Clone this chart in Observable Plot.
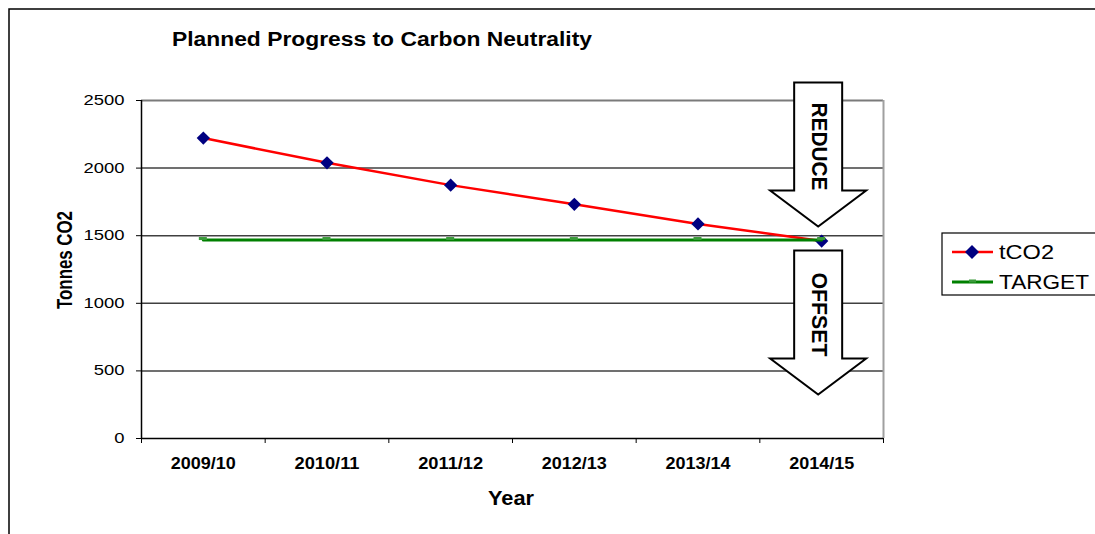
<!DOCTYPE html>
<html><head><meta charset="utf-8">
<script src="https://cdn.jsdelivr.net/npm/d3@7"></script>
<script src="https://cdn.jsdelivr.net/npm/@observablehq/plot@0.6"></script>
<style>
body{margin:0;background:#fff}
svg{font-family:Arial,"Liberation Sans",sans-serif}
</style>
</head><body><div id="chart"></div>
<script>
const years = ["2009/10","2010/11","2011/12","2012/13","2013/14","2014/15"];
const tco2 = [2222, 2039, 1874, 1732, 1587, 1460];
const target = [1468, 1468, 1468, 1468, 1468, 1468];
const yTicks = [0, 500, 1000, 1500, 2000, 2500];
const seriesNames = ["tCO2", "TARGET"];
const seriesColors = ["#ff0000", "#008000"];
const chartTitle = "Planned Progress to Carbon Neutrality";
const yLabel = "Tonnes CO2";
const xLabel = "Year";
const arrowLabels = ["REDUCE", "OFFSET"];

const idx = years.map((_, i) => i);
const rows = [
  ...idx.map(i => ({i, v: tco2[i], s: seriesNames[0]})),
  ...idx.map(i => ({i, v: target[i], s: seriesNames[1]}))
];
const tRows = rows.filter(d => d.s === seriesNames[0]);
const gRows = rows.filter(d => d.s === seriesNames[1]);
const bounds = d3.range(-0.5, years.length, 1);

function overlay(index, scales) {
  const x = scales.x, y = scales.y;
  const g = d3.create("svg:g").attr("text-anchor", "start").attr("fill", "#000");
  g.append("rect").attr("x", 9).attr("y", 9).attr("width", 1100).attr("height", 540)
    .attr("fill", "none").attr("stroke", "#000").attr("stroke-width", 1.5);
  g.append("text").attr("x", 172).attr("y", 46).attr("text-anchor", "start")
    .attr("font-size", 19.5).attr("font-weight", "bold")
    .attr("textLength", 420).attr("lengthAdjust", "spacingAndGlyphs").text(chartTitle);
  g.append("text").attr("transform", `translate(64,${(y(0)+y(2500))/2 - 9}) rotate(-90)`)
    .attr("text-anchor", "middle").attr("dominant-baseline", "central")
    .attr("font-size", 22).attr("font-weight", "bold")
    .attr("textLength", 98).attr("lengthAdjust", "spacingAndGlyphs").text(yLabel);
  g.append("text").attr("x", (x(-0.5)+x(5.5))/2 - 1).attr("y", 505).attr("text-anchor", "middle")
    .attr("font-size", 20).attr("font-weight", "bold")
    .attr("textLength", 46).attr("lengthAdjust", "spacingAndGlyphs").text(xLabel);
  const ax = x(years.length - 1) - 3, ay = y(target[target.length - 1]);
  const arrow = (top, label) => {
    const pts = [[-24,0],[24,0],[24,108],[48,108],[0,144],[-48,108],[-24,108]]
      .map(([dx,dy]) => [ax+dx, top+dy]);
    g.append("path").attr("d", "M" + pts.join("L") + "Z")
      .attr("fill", "#fff").attr("stroke", "#000").attr("stroke-width", 2);
    g.append("text").attr("transform", `translate(${ax+1},${top+20+44}) rotate(90)`)
      .attr("text-anchor", "middle").attr("dominant-baseline", "central")
      .attr("font-size", 22).attr("font-weight", "bold")
      .attr("textLength", label === arrowLabels[0] ? 88 : 84).attr("lengthAdjust", "spacingAndGlyphs")
      .text(label);
  };
  arrow(ay - 157, arrowLabels[0]);
  arrow(ay + 11, arrowLabels[1]);
  g.append("rect").attr("x", 942).attr("y", 233).attr("width", 170).attr("height", 62)
    .attr("fill", "#fff").attr("stroke", "#000").attr("stroke-width", 1.2);
  seriesNames.forEach((name, k) => {
    const ly = 252 + k * 30;
    g.append("line").attr("x1", 952).attr("x2", 993).attr("y1", ly).attr("y2", ly)
      .attr("stroke", seriesColors[k]).attr("stroke-width", k === 0 ? 2.5 : 3);
    if (k === 0) {
      g.append("path").attr("d", `M972,${ly-7}L979,${ly}L972,${ly+7}L965,${ly}Z`).attr("fill", "#000080");
    } else {
      g.append("rect").attr("x", 969).attr("y", ly-2.5).attr("width", 7).attr("height", 3).attr("fill", "#3a9a3a");
    }
    g.append("text").attr("x", 999).attr("y", ly).attr("text-anchor", "start")
      .attr("dominant-baseline", "central")
      .attr("font-size", 20).attr("textLength", k === 0 ? 55 : 90).attr("lengthAdjust", "spacingAndGlyphs")
      .text(name);
  });
  return g.node();
}

function targetMarkers(index, scales) {
  const g = d3.create("svg:g");
  gRows.forEach(d => {
    g.append("rect").attr("x", scales.x(d.i) - 4).attr("y", scales.y(d.v) - 2.5)
      .attr("width", 8).attr("height", 3).attr("fill", "#3a9a3a");
  });
  return g.node();
}

const chart = Plot.plot({
  width: 1095,
  height: 534,
  marginLeft: 141,
  marginRight: 212,
  marginTop: 100,
  marginBottom: 96,
  style: {fontFamily: "Arial, 'Liberation Sans', sans-serif", color: "#000", background: "#fff"},
  x: {type: "linear", domain: [-0.5, years.length - 0.5], axis: null, label: null},
  y: {domain: [0, 2500], axis: null, label: null},
  color: {domain: seriesNames, range: seriesColors},
  marks: [
    Plot.ruleY(yTicks.filter(v => v > 0 && v < 2500), {stroke: "#404040", strokeWidth: 1.5}),
    Plot.ruleY([2500], {stroke: "#7a7a7a", strokeWidth: 2}),
    Plot.ruleX([years.length - 0.5], {y1: 0, y2: 2500, stroke: "#a0a0a0", strokeWidth: 2}),
    Plot.axisY({ticks: yTicks, tickSize: 5, tickPadding: 12, fontSize: 14, label: null, tickFormat: d => String(d)}),
    Plot.axisX({ticks: bounds, tickSize: 5, label: null, tickFormat: () => ""}),
    Plot.axisX({ticks: idx, tickSize: 0, tickPadding: 19, fontSize: 16, fontWeight: "bold", label: null, tickFormat: i => years[i]}),
    Plot.ruleX([-0.5], {y1: 0, y2: 2500, stroke: "#000", strokeWidth: 1.5}),
    Plot.ruleY([0], {stroke: "#000", strokeWidth: 1.5}),
    Plot.line(tRows, {x: "i", y: "v", stroke: "s", strokeWidth: 2.5}),
    Plot.dot(tRows, {x: "i", y: "v", symbol: "diamond2", r: 6, fill: "#000080", stroke: "none"}),
    Plot.line(gRows, {x: "i", y: "v", stroke: "s", strokeWidth: 3}),
    targetMarkers,
    overlay
  ]
});
document.getElementById("chart").appendChild(chart);

d3.select(chart).selectAll('g[aria-label="x-axis tick label"] text').each(function() {
  const t = d3.select(this);
  if (t.text()) t.attr("textLength", 65).attr("lengthAdjust", "spacingAndGlyphs");
});
d3.select(chart).selectAll('g[aria-label="y-axis tick label"] text').each(function() {
  const t = d3.select(this);
  t.attr("textLength", t.text().length * 10.25).attr("lengthAdjust", "spacingAndGlyphs");
});
</script>
</body></html>
